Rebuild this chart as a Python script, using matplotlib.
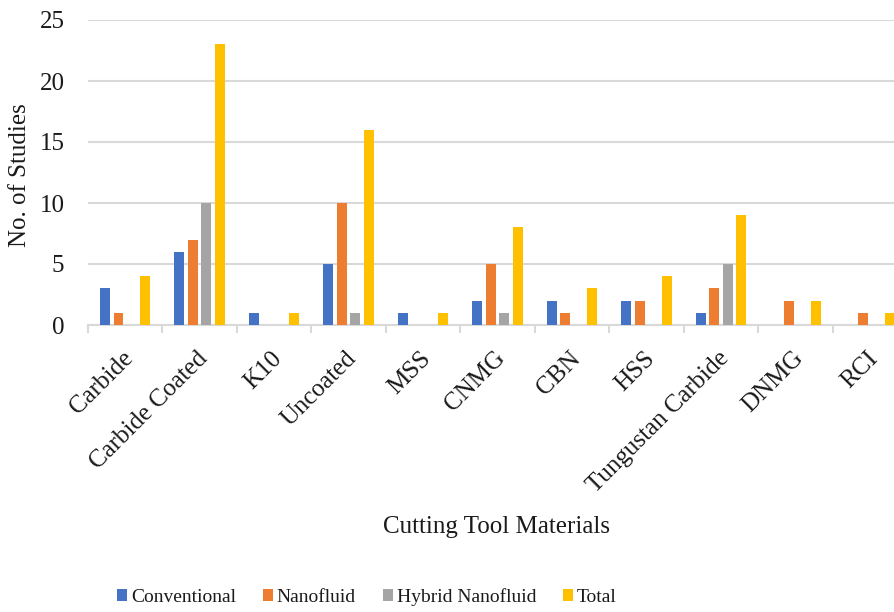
import numpy as np
import matplotlib
matplotlib.use("Agg")
import matplotlib.pyplot as plt
from matplotlib.transforms import ScaledTranslation
from matplotlib.font_manager import FontProperties

plt.rcParams['font.family'] = ['Liberation Serif', 'DejaVu Serif']

categories = ["Carbide", "Carbide Coated", "K10", "Uncoated", "MSS", "CNMG",
              "CBN", "HSS", "Tungustan Carbide", "DNMG", "RCI"]
conventional = [3, 6, 1, 5, 1, 2, 2, 2, 1, 0, 0]
nanofluid = [1, 7, 0, 10, 0, 5, 1, 2, 3, 2, 1]
hybrid = [0, 10, 0, 1, 0, 1, 0, 0, 5, 0, 0]
total = [4, 23, 1, 16, 1, 8, 3, 4, 9, 2, 1]

series = [("Conventional", conventional, "#4472C4"),
          ("Nanofluid", nanofluid, "#ED7D31"),
          ("Hybrid Nanofluid", hybrid, "#A5A5A5"),
          ("Total", total, "#FFC000")]

text_color = "#1a1a1a"

fig = plt.figure(figsize=(8.95, 6.12), dpi=100)
ax = fig.add_axes([88/895, 1-325/612, (907-88)/895, (325-20)/612])

x = np.arange(len(categories))
slot = 0.181
width = 0.134
for i, (name, vals, col) in enumerate(series):
    ax.bar(x + (i - 1.5) * slot, vals, width=width, color=col, label=name, zorder=3)

ax.set_xlim(-0.5, len(categories) - 0.5)
ax.set_ylim(0, 25)
ax.set_yticks(range(0, 26, 5))
ax.yaxis.grid(True, color="#D9D9D9", linewidth=1.5, zorder=0)
ax.set_axisbelow(True)
for s in ["top", "right", "left"]:
    ax.spines[s].set_visible(False)
ax.spines["bottom"].set_color("#D9D9D9")
ax.spines["bottom"].set_linewidth(1.5)

ax.tick_params(axis="y", length=0, labelsize=18, pad=17, labelcolor=text_color)
ax.set_xticks(x)
ax.set_xticklabels(categories, rotation=45, ha="right", rotation_mode="anchor",
                   fontsize=18, color=text_color)
ax.tick_params(axis="x", which="major", length=0, pad=16)
shift = ScaledTranslation(-3/100, 0, fig.dpi_scale_trans)
for lab in ax.get_xticklabels():
    lab.set_transform(lab.get_transform() + shift)
ax.set_xticks(np.arange(-0.5, len(categories), 1), minor=True)
ax.tick_params(axis="x", which="minor", length=6, width=1.5, color="#D9D9D9")

fig.text(20/895, 1-175/612, "No. of Studies", rotation=90, ha="center", va="center",
         fontsize=18, color=text_color)
fig.text(497/895, 1-527/612, "Cutting Tool Materials", ha="center", va="center",
         fontsize=18, color=text_color)

legend_font = FontProperties(family=["Liberation Serif"], size=14)
handles, labels = ax.get_legend_handles_labels()
fig.legend(handles, labels, loc="center", bbox_to_anchor=(367/895, 1-597/612),
           ncol=4, frameon=False, prop=legend_font,
           handlelength=0.5, handleheight=0.6,
           handletextpad=0.2, columnspacing=1.4, labelcolor=text_color)

fig.savefig("out.png", dpi=100)
